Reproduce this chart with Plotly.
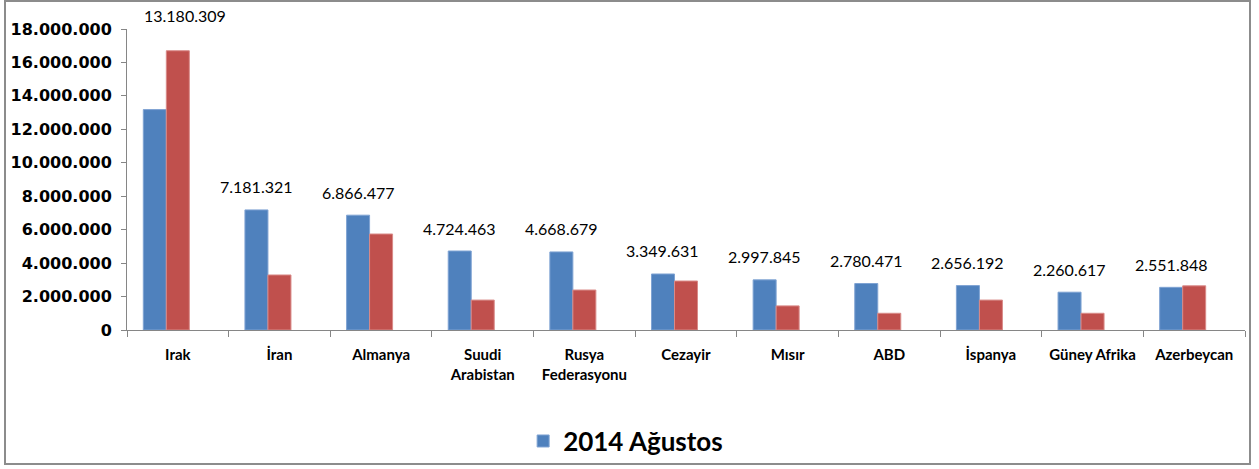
import plotly.graph_objects as go

categories = ["Irak", "İran", "Almanya", "Suudi<br>Arabistan", "Rusya<br>Federasyonu",
              "Cezayir", "Mısır", "ABD", "İspanya", "Güney Afrika", "Azerbeycan"]
aug_2014 = [13180309, 7181321, 6866477, 4724463, 4668679, 3349631,
            2997845, 2780471, 2656192, 2260617, 2551848]
other_series = [16700000, 3290000, 5740000, 1790000, 2390000, 2930000,
                1440000, 1000000, 1790000, 1000000, 2640000]
empty_series = [None] * len(categories)
y_ticks = list(range(0, 18000001, 2000000))

def fmt(v):
    return f"{v:,}".replace(",", ".")

W, H = 1259, 469
ml, mr, mt, mb = 127, 14, 29, 139
pw, ph = W - ml - mr, H - mt - mb
bargap = 0.321
n_series = 3
bar_px = (pw / len(categories)) * (1 - bargap) / n_series

fig = go.Figure()
fig.add_trace(go.Bar(
    x=categories, y=aug_2014, name="2014 Ağustos",
    marker=dict(color="#4F81BD", line=dict(color="#7FA3D3", width=1)),
    showlegend=True,
))
fig.add_trace(go.Bar(
    x=categories, y=other_series, name="",
    marker=dict(color="#C0504D", line=dict(color="#D98A88", width=1)),
    showlegend=False,
))
fig.add_trace(go.Bar(
    x=categories, y=empty_series, name="",
    marker=dict(color="#9BBB59"), showlegend=False,
))

annotations = []
for i, (c, v) in enumerate(zip(categories, aug_2014)):
    if i == 0:
        annotations.append(dict(x=c, y=1, xref="x", yref="paper", text=fmt(v),
                                showarrow=False, yshift=14, xshift=7, yanchor="middle",
                                font=dict(family="Lato", size=16, color="#000000")))
    else:
        annotations.append(dict(x=c, y=v, xref="x", yref="y", text=fmt(v),
                                showarrow=False, yshift=23, xshift=-bar_px, yanchor="middle",
                                font=dict(family="Lato", size=16, color="#000000")))

fig.update_layout(
    width=W, height=H,
    margin=dict(l=ml, r=mr, t=mt, b=mb, autoexpand=False),
    paper_bgcolor="white", plot_bgcolor="white",
    barmode="group", bargap=bargap, bargroupgap=0,
    font=dict(family="Lato", color="#000000"),
    annotations=annotations,
    legend=dict(x=0.446, y=-0.369, xanchor="center", yanchor="middle",
                orientation="h", bgcolor="rgba(0,0,0,0)",
                font=dict(family="Lato", size=26, color="#000000", weight="bold"),
                itemwidth=30),
    shapes=[dict(type="rect", xref="paper", yref="paper",
                 x0=(5 - ml) / pw, x1=(1250 - ml) / pw,
                 y0=(H - mb - 464) / ph, y1=(H - mb - 1) / ph,
                 line=dict(color="#8C8C8C", width=2), fillcolor="rgba(0,0,0,0)",
                 layer="below")],
)
fig.update_xaxes(
    automargin=False,
    showline=True, linecolor="#868686", linewidth=1,
    ticks="outside", tickson="boundaries", ticklen=6, tickcolor="#868686",
    showgrid=False, ticklabelstandoff=11,
    tickfont=dict(family="Lato", size=15, color="#000000", weight="bold"),
)
fig.update_yaxes(
    automargin=False,
    range=[0, 18000000], tickvals=y_ticks, ticktext=[fmt(t) for t in y_ticks],
    showline=True, linecolor="#868686", linewidth=1,
    ticks="outside", ticklen=5, tickcolor="#868686",
    showgrid=False, zeroline=False, ticklabelstandoff=6,
    tickfont=dict(family="DejaVu Sans", size=16, color="#000000", weight="bold"),
)

fig.write_html("out.html", config={"displayModeBar": False},
               post_script="document.body.style.margin='0px';")
